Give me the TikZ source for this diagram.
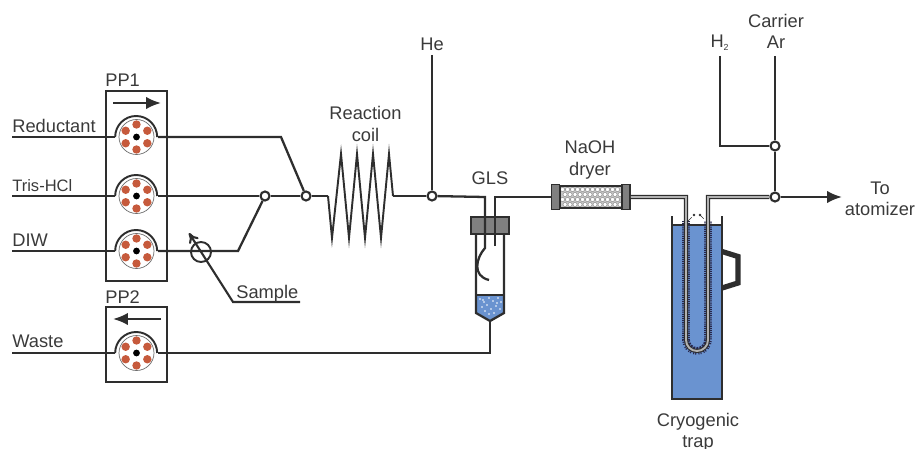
\documentclass[tikz,border=0pt]{standalone}
\usepackage{fontspec}
\setmainfont{Liberation Sans}
\usepackage{tikz}
\usetikzlibrary{arrows.meta}
\definecolor{inkgray}{HTML}{2E2E2E}
\definecolor{textgray}{HTML}{3A3A3A}
\definecolor{capgray}{HTML}{808080}
\definecolor{liquidblue}{HTML}{6A93D0}
\definecolor{rotorred}{HTML}{C65A3C}

\newcommand{\pumphead}[2]{%
    \node (#1) [pumpbody] at (#2) {};
    \fill [white] (#1) circle (19);
    \draw [rim] (#1.west) arc (180:360:21);
    \draw [thin, draw=inkgray!70, fill=white] (#1) circle (17.5);
    \foreach \a in {30,90,150,210,270,330}
        \fill [rotorred] (#1) ++(\a:12.5) circle (4.2);
    \fill [black] (#1) circle (3.4);
}

\begin{document}
\begin{tikzpicture}[
    x=0.02cm, y=-0.02cm,
    font=\fontsize{10.4}{12}\selectfont, text=textgray,
    tube/.style={draw=inkgray, line width=1.3pt},
    rim/.style={draw=inkgray, line width=1.1pt},
    casebox/.style={draw=inkgray, line width=1.2pt, inner sep=0pt},
    pumpbody/.style={circle, minimum size=0.84cm, inner sep=0pt},
    junction/.style={circle, draw=inkgray, line width=1.2pt, fill=white, minimum size=0.18cm, inner sep=0pt},
    sidelabel/.style={inner sep=0pt, anchor=base west},
    toplabel/.style={inner sep=0pt, align=center, anchor=center},
    dryercap/.style={rectangle, draw=inkgray, line width=1pt, fill=capgray, minimum width=0.16cm, minimum height=0.5cm, inner sep=0pt},
    capillary/.style={draw=inkgray, line width=0.6pt, double=gray!60, double distance=1.1pt},
    arrow/.style={-{Latex[length=0.3cm, width=0.25cm]}, draw=inkgray, line width=1.3pt}
]
    \useasboundingbox (0,0) rectangle (915,449);

    % pump cases
    \node (casea) [casebox, minimum width=1.22cm, minimum height=3.8cm] at (136.5,186) {};
    \node (caseb) [casebox, minimum width=1.22cm, minimum height=1.5cm] at (136.5,344.5) {};
    \node (ppa) [sidelabel] at (105,86.5) {PP1};
    \node (ppb) [sidelabel] at (105,303) {PP2};
    \coordinate (casearrowa) at (113,103);
    \coordinate (casearrowb) at (161,103);
    \coordinate (casearrowc) at (161,319);
    \coordinate (casearrowd) at (113,319);
    \draw [arrow] (casearrowa) -- (casearrowb);
    \draw [arrow] (casearrowc) -- (casearrowd);

    % junctions and free ends
    \coordinate (inreductant) at (12,137);
    \coordinate (intris) at (12,196);
    \coordinate (indiw) at (12,251);
    \coordinate (inwaste) at (12,353);
    \node (joindiw) [junction] at (265,196) {};
    \node (joinred) [junction] at (306,196) {};
    \node (joinhe) [junction] at (432,196) {};
    \node (joinhyd) [junction] at (775,146) {};
    \node (joinout) [junction] at (775,197) {};
    \coordinate (bendred) at (281,137);
    \coordinate (benddiw) at (238,251);
    \coordinate (tophe) at (432,55);
    \coordinate (tophyd) at (720,56);
    \coordinate (topar) at (775,56);
    \coordinate (cornerhyd) at (720,146);
    \coordinate (outlet) at (842,197);

    % pumps
    \pumphead{reductant}{136.5,137}
    \pumphead{tris}{136.5,196}
    \pumphead{diw}{136.5,251}
    \pumphead{waste}{136.5,353}

    % lines in and out of the pumps
    \draw [tube] (inreductant) -- (reductant.west);
    \draw [tube] (intris) -- (tris.west);
    \draw [tube] (indiw) -- (diw.west);
    \draw [tube] (inwaste) -- (waste.west);
    \draw [tube] (reductant.east) -- (bendred) -- (joinred);
    \draw [tube] (tris.east) -- (joindiw) -- (joinred);
    \draw [tube] (diw.east) -- (benddiw) -- (joindiw);

    % sample valve
    \node (valve) [circle, draw=inkgray, line width=1.1pt, minimum size=0.4cm, inner sep=0pt] at (201,252) {};
    \coordinate (samplebend) at (233,302);
    \coordinate (sampletip) at (189,233);
    \coordinate (sampleend) at (300,302);
    \draw [draw=inkgray, line width=1.2pt, -{To[length=0.2cm, width=0.22cm]}] (sampleend) -- (samplebend) -- (sampletip);

    % reaction coil
    \coordinate (coilin) at (328,196);
    \coordinate (coilout) at (393,196);
    \draw [tube] (joinred) -- (coilin);
    \draw [tube, line width=1.1pt, miter limit=30] (coilin) -- (332,238)
        -- (341,154) -- (349,238) -- (357,154) -- (365,238) -- (373,154) -- (381,238) -- (389,154) -- (coilout);
    \draw [tube] (coilout) -- (joinhe);
    \draw [tube] (tophe) -- (joinhe);

    % dryer
    \fill [gray!45] (560,186) rectangle (622,208);
    \foreach \i in {0,...,11}
        \foreach \j in {0,...,3}
            \draw [draw=inkgray!60, fill=white, line width=0.25pt] ({562.5+\i*5+mod(\j,2)*2.5},{189.5+\j*5}) circle (2.1);
    \draw [draw=inkgray, line width=0.6pt] (560,186) rectangle (622,208);
    \node (dryerin) [dryercap] at (555.5,197) {};
    \node (dryerout) [dryercap] at (626,197) {};

    % gas liquid separator
    \fill [white] (476,234) rectangle (504,295);
    \path [fill=liquidblue] (476,295) -- (504,295) -- (504,313) -- (490,321) -- (476,313) -- cycle;
    \foreach \x/\y in {480/299,484/302,489/298,493/301,498/298,501/302,482/307,487/305,491/309,496/306,500/309,485/311,489/314,494/313,483/300,497/303}
        \fill [white] (\x,\y) circle (0.9);
    \draw [tube] (476,234) -- (476,313) -- (490,321) -- (504,313) -- (504,234);
    \draw [tube] (476,295) -- (504,295);
    \coordinate (glsbottom) at (490,321);
    \coordinate (glscorner) at (490,353);
    \draw [tube] (glsbottom) -- (glscorner) -- (waste.east);
    \node (glscap) [rectangle, draw=inkgray, line width=1pt, fill=capgray, minimum width=0.76cm, minimum height=0.34cm, inner sep=0pt] at (490,225.5) {};
    \coordinate (glsin) at (485,248);
    \coordinate (glsout) at (495,246);
    \coordinate (glscornera) at (485,197);
    \coordinate (glscornerb) at (495,197);
    \draw [tube] (joinhe) -- (glscornera) -- (glsin) .. controls (476,258) and (472,276) .. (489,280);
    \draw [tube] (glsout) -- (glscornerb) -- (dryerin);

    % cryogenic trap
    \fill [liquidblue] (672,225) rectangle (722,399);
    \draw [draw=inkgray, line width=1.3pt] (672,216) -- (672,399) -- (722,399) -- (722,216);
    \draw [draw=inkgray, line width=1.3pt] (672,225) -- (722,225);
    \draw [draw=inkgray, line width=3pt, miter limit=4] (722,251.5) -- (738,256.5) -- (738,283) -- (722,288);
    \draw [draw=inkgray!85!blue, line width=4.4pt, dash pattern=on 0.6pt off 0.6pt] (686,221) -- (686,340) arc (180:0:11) -- (708,221);
    \draw [capillary] (dryerout.east) -- (686,197) -- (686,340) arc (180:0:11) -- (708,197) -- (joinout.west);
    \fill [inkgray] (694,215) circle (1.4) (700,215) circle (1.4);
    \draw [draw=inkgray, line width=0.3pt, dashed] (688,221) -- (694,215) (700,215) -- (706,221);

    % carrier gas and outlet
    \draw [tube] (tophyd) -- (cornerhyd) -- (joinhyd);
    \draw [tube] (topar) -- (joinhyd) -- (joinout);
    \draw [arrow] (joinout) -- (outlet);

    % labels
    \node (lblreductant) [sidelabel] at (12,132.5) {Reductant};
    \node (lbltris) [sidelabel, font=\fontsize{9.4}{11}\selectfont] at (12,192) {Tris-HCl};
    \node (lbldiw) [sidelabel] at (12,246.5) {DIW};
    \node (lblwaste) [sidelabel] at (12,347) {Waste};
    \node (lblsample) [sidelabel] at (236,298) {Sample};
    \node (lblcoil) [toplabel] at (365.5,124) {Reaction\\coil};
    \node (lblhe) [toplabel] at (432,44) {He};
    \node (lblgls) [toplabel] at (490,178) {GLS};
    \node (lbldryer) [toplabel] at (590,160) {NaOH\\dryer};
    \node (lblhyd) [toplabel] at (720,43) {H\textsubscript{\fontsize{5}{5}\selectfont 2}};
    \node (lblcarrier) [toplabel] at (776,31) {Carrier\\Ar};
    \node (lblout) [toplabel] at (880,199) {To\\atomizer};
    \node (lbltrap) [toplabel] at (698,432) {Cryogenic\\trap};
\end{tikzpicture}
\end{document}
